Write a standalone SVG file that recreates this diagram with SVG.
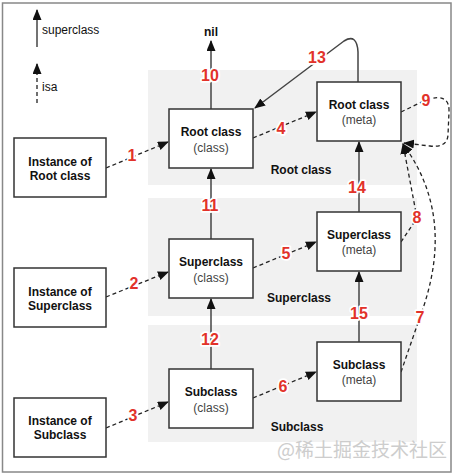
<svg xmlns="http://www.w3.org/2000/svg" width="454" height="475" viewBox="0 0 454 475">
<defs>
<marker id="ah" markerUnits="userSpaceOnUse" markerWidth="12" markerHeight="10" refX="10" refY="4.5" orient="auto">
<path d="M0,0 L11,4.5 L0,9 Z" fill="#111"/>
</marker>
<style>
.band{fill:#f1f1f1;stroke:none}
.box{fill:#fff;stroke:#333;stroke-width:1.5}
.t{font-family:"Liberation Sans",Arial,sans-serif;font-size:12px;text-anchor:middle;fill:#111}
.b{font-weight:bold}
.sub{fill:#444}
.sol{fill:none;stroke:#444;stroke-width:1.5}
.dash{fill:none;stroke:#222;stroke-width:1.3;stroke-dasharray:4 3}
.num{font-family:"Liberation Sans",Arial,sans-serif;font-size:16px;font-weight:bold;fill:#e2322a;stroke:#fff;stroke-width:3.5;paint-order:stroke;stroke-linejoin:round;text-anchor:middle}
</style>
</defs>
<rect x="0" y="0" width="454" height="475" fill="#fff"/>
<rect x="2.5" y="3" width="448.5" height="469" fill="#fff" stroke="#888" stroke-width="1.5"/>

<g id="bands">
<rect class="band" x="148" y="70" width="269" height="115"/>
<rect class="band" x="148" y="198" width="269" height="118"/>
<rect class="band" x="148" y="325" width="269" height="117"/>
<text class="t b" x="301" y="174">Root class</text>
<text class="t b" x="299" y="302">Superclass</text>
<text class="t b" x="297" y="431">Subclass</text>
</g>

<g id="legend">
<line class="sol" x1="37" y1="47" x2="37" y2="10" marker-end="url(#ah)"/>
<text class="t" x="42" y="34" style="text-anchor:start">superclass</text>
<line class="dash" x1="37" y1="103" x2="37" y2="64" marker-end="url(#ah)"/>
<text class="t" x="42" y="91" style="text-anchor:start">isa</text>
</g>

<g id="connectors">
<line class="sol" x1="211" y1="109" x2="211" y2="41" marker-end="url(#ah)"/>
<line class="sol" x1="211" y1="239" x2="211" y2="169" marker-end="url(#ah)"/>
<line class="sol" x1="211" y1="369" x2="211" y2="299" marker-end="url(#ah)"/>
<line class="sol" x1="359" y1="212" x2="359" y2="142" marker-end="url(#ah)"/>
<line class="sol" x1="359" y1="342" x2="359" y2="272" marker-end="url(#ah)"/>
<path class="sol" d="M358 82 L358 52 Q357 33 344 41 L255 108" marker-end="url(#ah)"/>
<line class="dash" x1="106" y1="168" x2="168" y2="142" marker-end="url(#ah)"/>
<line class="dash" x1="106" y1="297" x2="168" y2="272" marker-end="url(#ah)"/>
<line class="dash" x1="106" y1="428" x2="168" y2="402" marker-end="url(#ah)"/>
<line class="dash" x1="253" y1="138" x2="316" y2="112" marker-end="url(#ah)"/>
<line class="dash" x1="253" y1="268" x2="316" y2="242" marker-end="url(#ah)"/>
<line class="dash" x1="253" y1="398" x2="316" y2="372" marker-end="url(#ah)"/>
<path class="dash" d="M401 112 L426 100 Q450 92 449 112 L448 135 Q447 148 430 146 L404 143" marker-end="url(#ah)"/>
<path class="dash" d="M401 242 L417 218 L403 144" marker-end="url(#ah)"/>
<path class="dash" d="M401 372 L420 317 C438 268 448 205 403 144" marker-end="url(#ah)"/>
</g>

<g id="nil"><text class="t b" x="211" y="36">nil</text></g>

<g id="inst-root"><rect class="box" x="14" y="138" width="92" height="59"/><text class="t b" x="60" y="166">Instance of</text><text class="t b" x="60" y="180">Root class</text></g>
<g id="inst-super"><rect class="box" x="14" y="268" width="92" height="59"/><text class="t b" x="60" y="296">Instance of</text><text class="t b" x="60" y="310">Superclass</text></g>
<g id="inst-sub"><rect class="box" x="14" y="398" width="92" height="59"/><text class="t b" x="60" y="425">Instance of</text><text class="t b" x="60" y="439">Subclass</text></g>

<g id="root-class"><rect class="box" x="169" y="109" width="84" height="59"/><text class="t b" x="211" y="136">Root class</text><text class="t sub" x="211" y="152">(class)</text></g>
<g id="super-class"><rect class="box" x="169" y="239" width="84" height="59"/><text class="t b" x="211" y="266">Superclass</text><text class="t sub" x="211" y="282">(class)</text></g>
<g id="sub-class"><rect class="box" x="169" y="369" width="84" height="59"/><text class="t b" x="211" y="396">Subclass</text><text class="t sub" x="211" y="412">(class)</text></g>

<g id="root-meta"><rect class="box" x="317" y="82" width="84" height="59"/><text class="t b" x="359" y="109">Root class</text><text class="t sub" x="359" y="124">(meta)</text></g>
<g id="super-meta"><rect class="box" x="317" y="212" width="84" height="59"/><text class="t b" x="359" y="239">Superclass</text><text class="t sub" x="359" y="254">(meta)</text></g>
<g id="sub-meta"><rect class="box" x="317" y="342" width="84" height="59"/><text class="t b" x="359" y="369">Subclass</text><text class="t sub" x="359" y="384">(meta)</text></g>

<g id="labels">
<text class="num" x="132" y="161">1</text>
<text class="num" x="134" y="289">2</text>
<text class="num" x="133" y="421">3</text>
<text class="num" x="281" y="134">4</text>
<text class="num" x="286" y="259">5</text>
<text class="num" x="283" y="392">6</text>
<text class="num" x="420" y="323">7</text>
<text class="num" x="417" y="223">8</text>
<text class="num" x="426" y="106">9</text>
<text class="num" x="210" y="81">10</text>
<text class="num" x="210" y="211">11</text>
<text class="num" x="210" y="345">12</text>
<text class="num" x="317" y="63">13</text>
<text class="num" x="357" y="193">14</text>
<text class="num" x="359" y="319">15</text>
</g>

<text x="277" y="457" font-family="'Noto Sans CJK SC',sans-serif" font-size="19" fill="#c8c8c8" opacity="0.9">@稀土掘金技术社区</text>
</svg>
